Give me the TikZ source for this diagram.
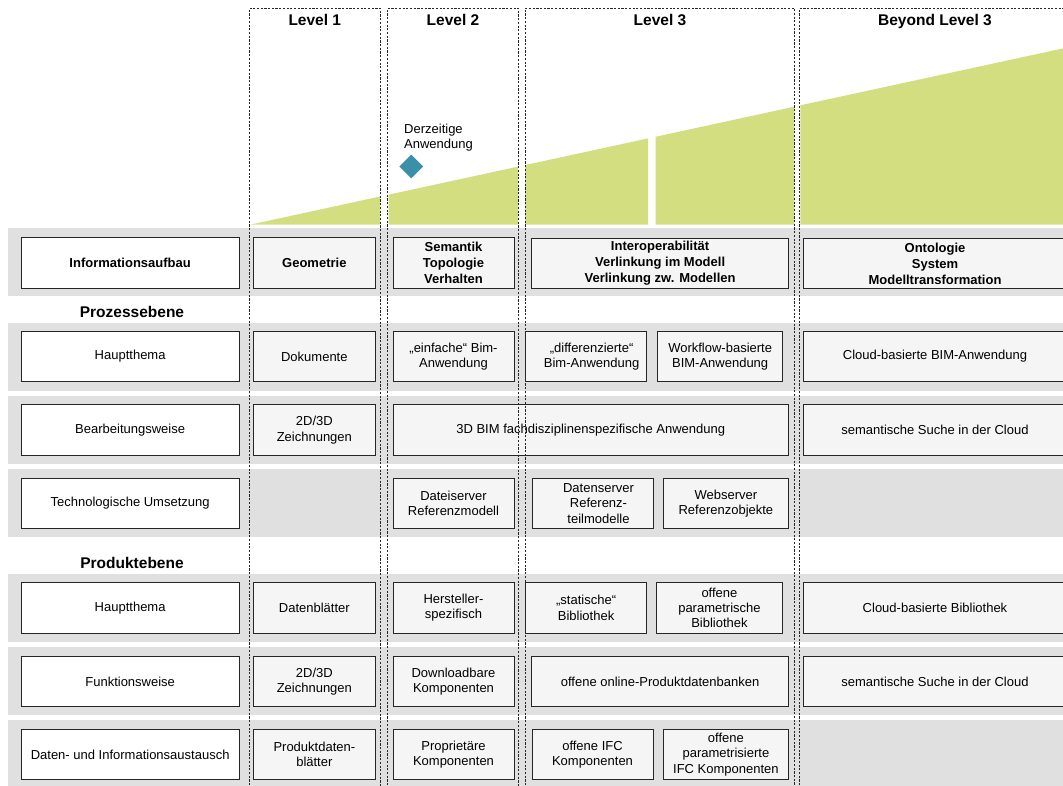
\documentclass[tikz,border=0pt]{standalone}
\usepackage{fontspec}
\setmainfont{Liberation Sans}
\usetikzlibrary{shapes.geometric}
\definecolor{lgreen}{RGB}{210,222,127}
\definecolor{tealdia}{RGB}{60,143,168}
\definecolor{bandgray}{RGB}{224,224,224}
\definecolor{cellfill}{RGB}{245,245,245}
\begin{document}
\begin{tikzpicture}[x=1pt,y=-1pt,
  lbl/.style={draw=black!85, fill=white, line width=0.9pt, minimum height=50.5pt, inner sep=1pt, align=center, font=\fontsize{13}{15.3}\selectfont},
  cell/.style={lbl, fill=cellfill},
  hd/.style={font=\bfseries\fontsize{13}{16}\selectfont},
  titlef/.style={font=\bfseries\fontsize{15.5}{18}\selectfont, inner sep=0pt},
  bandbg/.style={fill=bandgray, draw=none},
  colline/.style={draw=black!85, dash pattern=on 2.2pt off 1.5pt, line width=0.9pt},
  wedge/.style={fill=lgreen, draw=none}]
\useasboundingbox (0,0) rectangle (1063,785);
\clip (0,0) rectangle (1063,785);
% green wedges
\fill[wedge] (251,224.5) -- (380,196.5) -- (380,224.5) -- cycle;
\fill[wedge] (388.5,224.5) -- (388.5,194.7) -- (518,166.6) -- (518,224.5) -- cycle;
\fill[wedge] (525,224.5) -- (525,165.1) -- (648,138.4) -- (648,224.5) -- cycle;
\fill[wedge] (655.5,224.5) -- (655.5,136.8) -- (794.3,106.7) -- (794.3,224.5) -- cycle;
\fill[wedge] (800.4,224.5) -- (800.4,105.3) -- (1063,48.4) -- (1063,224.5) -- cycle;
% diamond and its label
\node[diamond, fill=tealdia, minimum width=24pt, minimum height=24pt, inner sep=0pt] (cur) at (411.3,166.5) {};
\node[anchor=west, align=left, inner sep=0pt, font=\fontsize{13}{15.5}\selectfont] (curlbl) at (404,137.5) {Derzeitige\\Anwendung};
% bands
\fill[bandbg] (8,228) rectangle (1070,296);
\fill[bandbg] (8,322.6) rectangle (1070,390.5);
\fill[bandbg] (8,396.3) rectangle (1070,463.9);
\fill[bandbg] (8,469) rectangle (1070,536.5);
\fill[bandbg] (8,573.6) rectangle (1070,641.9);
\fill[bandbg] (8,647.3) rectangle (1070,714.5);
\fill[bandbg] (8,720) rectangle (1070,795);
% section titles
\node[titlef, anchor=base] (proz) at (132,317) {Prozessebene};
\node[titlef, anchor=base] (prod) at (132,568.6) {Produktebene};
% Row A
\node[lbl, hd, minimum width=217.7pt] (a0) at (130.15,262.7) {Informationsaufbau};
\node[cell, hd, minimum width=121.3pt] (a1) at (314.35,262.7) {Geometrie};
\node[cell, hd, minimum width=121pt] (a2) at (453.5,262.7) {Semantik\\Topologie\\Verhalten};
\node[cell, hd, minimum width=256.8pt] (a3) at (660.1,263.5) {Interoperabilität\\Verlinkung im Modell\\Verlinkung zw. Modellen};
\node[cell, hd, minimum width=264pt] (a4) at (935,263.5) {Ontologie\\System\\Modelltransformation};
% Row B
\node[lbl, minimum width=217.7pt] (b0) at (130.15,356.6) {Hauptthema};
\node[cell, minimum width=121.3pt] (b1) at (314.35,356.6) {Dokumente};
\node[cell, minimum width=121pt] (b2) at (453.5,356.6) {„einfache“ Bim-\\Anwendung};
\node[cell, minimum width=121.2pt, text width=121.2pt, inner xsep=0pt] (b3) at (586.1,356.6) {\hspace*{11pt}„differenzierte“\\\hspace*{11pt}Bim-Anwendung};
\node[cell, minimum width=125.1pt] (b4) at (720.15,356.6) {Workflow-basierte\\BIM-Anwendung};
\node[cell, minimum width=264pt] (b5) at (935,356.6) {Cloud-basierte BIM-Anwendung};
% Row C
\node[lbl, minimum width=217.7pt] (c0) at (130.15,430) {Bearbeitungsweise};
\node[cell, minimum width=121.3pt] (c1) at (314.35,430) {2D/3D\\Zeichnungen};
\node[cell, minimum width=395.5pt] (c2) at (590.75,430) {3D BIM fachdisziplinenspezifische Anwendung};
\node[cell, minimum width=264pt] (c4) at (935,430) {semantische Suche in der Cloud};
% Row D
\node[lbl, minimum width=217.7pt] (d0) at (130.15,503.4) {Technologische Umsetzung};
\node[cell, minimum width=121pt] (d2) at (453.5,503.4) {Dateiserver\\Referenzmodell};
\node[cell, minimum width=121pt, text width=121pt, inner xsep=0pt] (d3) at (592.5,503.4) {\hspace*{12pt}Datenserver\\\hspace*{12pt}Referenz-\\\hspace*{12pt}teilmodelle};
\node[cell, minimum width=125.2pt] (d4) at (725.9,503.4) {Webserver\\Referenzobjekte};
% Row E
\node[lbl, minimum width=217.7pt] (e0) at (130.15,607.8) {Hauptthema};
\node[cell, minimum width=121.3pt] (e1) at (314.35,607.8) {Datenblätter};
\node[cell, minimum width=121pt] (e2) at (453.5,607.8) {Hersteller-\\spezifisch};
\node[cell, minimum width=121.2pt] (e3) at (586.1,607.8) {„statische“\\Bibliothek};
\node[cell, minimum width=125.1pt] (e4) at (719.45,607.8) {offene\\parametrische\\Bibliothek};
\node[cell, minimum width=264pt] (e5) at (935,607.8) {Cloud-basierte Bibliothek};
% Row F
\node[lbl, minimum width=217.7pt] (f0) at (130.15,681.4) {Funktionsweise};
\node[cell, minimum width=121.3pt] (f1) at (314.35,681.4) {2D/3D\\Zeichnungen};
\node[cell, minimum width=121pt] (f2) at (453.5,681.4) {Downloadbare\\Komponenten};
\node[cell, minimum width=256.8pt] (f3) at (660.1,681.4) {offene online-Produktdatenbanken};
\node[cell, minimum width=264pt] (f4) at (935,681.4) {semantische Suche in der Cloud};
% Row G
\node[lbl, minimum width=217.7pt] (g0) at (130.15,754.5) {Daten- und Informationsaustausch};
\node[cell, minimum width=121.3pt] (g1) at (314.35,754.5) {Produktdaten-\\blätter};
\node[cell, minimum width=121pt] (g2) at (453.5,754.5) {Proprietäre\\Komponenten};
\node[cell, minimum width=121pt] (g3) at (592.5,754.5) {offene IFC\\Komponenten};
\node[cell, minimum width=125.2pt] (g4) at (725.9,754.5) {offene\\parametrisierte\\IFC Komponenten};
% level columns (dashed)
\draw[colline] (249.3,800) -- (249.3,8.4) -- (380.4,8.4) -- (380.4,800);
\draw[colline] (387.5,800) -- (387.5,8.4) -- (518.6,8.4) -- (518.6,800);
\draw[colline] (525,800) -- (525,8.4) -- (794.6,8.4) -- (794.6,800);
\draw[colline] (799.4,800) -- (799.4,8.4) -- (1075,8.4);
% level titles
\node[titlef, anchor=base] (lv1) at (314.8,25.3) {Level 1};
\node[titlef, anchor=base] (lv2) at (453,25.3) {Level 2};
\node[titlef, anchor=base] (lv3) at (660,25.3) {Level 3};
\node[titlef, anchor=base] (lv4) at (935,25.3) {Beyond Level 3};
\end{tikzpicture}
\end{document}
